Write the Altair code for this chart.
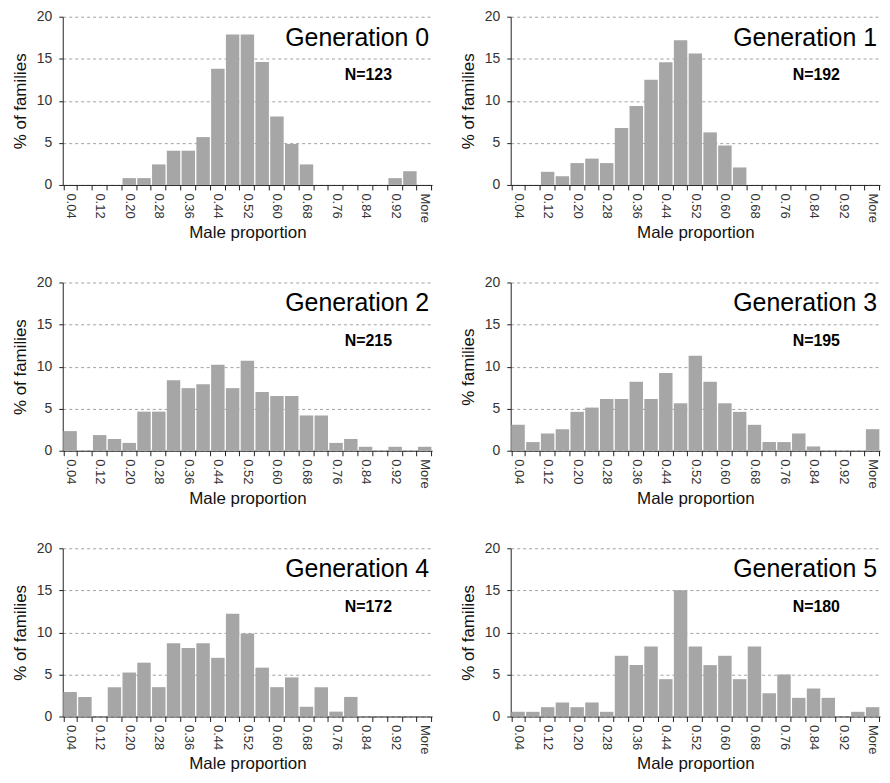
import altair as alt
import pandas as pd

bins = ["0.04", "0.08", "0.12", "0.16", "0.20", "0.24", "0.28", "0.32", "0.36",
        "0.40", "0.44", "0.48", "0.52", "0.56", "0.60", "0.64", "0.68", "0.72",
        "0.76", "0.80", "0.84", "0.88", "0.92", "0.96", "More"]
shown_labels = bins[::2]

gen0 = [0, 0, 0, 0, 0.81, 0.81, 2.44, 4.07, 4.07, 5.69, 13.82, 17.89, 17.89,
        14.63, 8.13, 4.88, 2.44, 0, 0, 0, 0, 0, 0.81, 1.63, 0]
gen1 = [0, 0, 1.56, 1.04, 2.60, 3.13, 2.60, 6.77, 9.38, 12.50, 14.58, 17.19,
        15.63, 6.25, 4.69, 2.08, 0, 0, 0, 0, 0, 0, 0, 0, 0]
gen2 = [2.33, 0, 1.86, 1.40, 0.93, 4.65, 4.65, 8.37, 7.44, 7.91, 10.23, 7.44,
        10.70, 6.98, 6.51, 6.51, 4.19, 4.19, 0.93, 1.40, 0.47, 0, 0.47, 0, 0.47]
gen3 = [3.08, 1.03, 2.05, 2.56, 4.62, 5.13, 6.15, 6.15, 8.21, 6.15, 9.23, 5.64,
        11.28, 8.21, 5.64, 4.62, 3.08, 1.03, 1.03, 2.05, 0.51, 0, 0, 0, 2.56]
gen4 = [2.91, 2.33, 0, 3.49, 5.23, 6.40, 3.49, 8.72, 8.14, 8.72, 6.98, 12.21,
        9.88, 5.81, 3.49, 4.65, 1.16, 3.49, 0.58, 2.33, 0, 0, 0, 0, 0]
gen5 = [0.56, 0.56, 1.11, 1.67, 1.11, 1.67, 0.56, 7.22, 6.11, 8.33, 4.44, 15.00,
        8.33, 6.11, 7.22, 4.44, 8.33, 2.78, 5.00, 2.22, 3.33, 2.22, 0, 0.56, 1.11]

gen_titles = ["Generation 0", "Generation 1", "Generation 2",
              "Generation 3", "Generation 4", "Generation 5"]
n_labels = ["N=123", "N=192", "N=215", "N=195", "N=172", "N=180"]
y_titles = ["% of families", "% of families", "% of families",
            "% families", "% of families", "% of families"]
series = [gen0, gen1, gen2, gen3, gen4, gen5]

FONT = "Liberation Sans"
W = 371
H = 169

label_list = "[" + ",".join("'%s'" % s for s in shown_labels) + "]"
label_expr = "indexof(%s, datum.value) >= 0 ? datum.label : ''" % label_list


def panel(values, gtitle, ntext, ytitle):
    df = pd.DataFrame({"bin": bins, "pct": values})
    bars = alt.Chart(df).mark_bar(color="#a6a6a6").encode(
        x=alt.X("bin:N", sort=bins,
                scale=alt.Scale(paddingInner=0.09, paddingOuter=0.045),
                axis=alt.Axis(title="Male proportion", labelAngle=90,
                              labelExpr=label_expr, tickBand="extent",
                              tickSize=5, tickColor="#222", domainColor="#222",
                              labelFontSize=13, labelColor="#333",
                              labelPadding=3, titleFontSize=17,
                              titleFontWeight="normal", titleColor="#111",
                              titlePadding=2, labelFont=FONT, titleFont=FONT)),
        y=alt.Y("pct:Q", scale=alt.Scale(domain=[0, 20], nice=False),
                axis=alt.Axis(title=ytitle, values=[0, 5, 10, 15, 20],
                              grid=True, gridDash=[3, 3], gridColor="#a0a0a0",
                              tickSize=4, tickColor="#222", domainColor="#222",
                              labelFontSize=14, labelColor="#333",
                              labelPadding=7, titleFontSize=17,
                              titleFontWeight="normal", titleColor="#111",
                              titlePadding=7, labelFont=FONT, titleFont=FONT)),
    )
    tdf = pd.DataFrame({"t": [gtitle]})
    gt = alt.Chart(tdf).mark_text(align="right", baseline="alphabetic",
                                  fontSize=25, font=FONT, color="#000").encode(
        x=alt.value(W - 3), y=alt.value(29), text="t:N")
    ndf = pd.DataFrame({"t": [ntext]})
    nt = alt.Chart(ndf).mark_text(align="center", baseline="alphabetic",
                                  fontSize=16, fontWeight="bold", font=FONT,
                                  color="#000").encode(
        x=alt.value(W - 64), y=alt.value(64), text="t:N")
    return alt.layer(bars, gt, nt).properties(width=W, height=H)


panels = [panel(series[i], gen_titles[i], n_labels[i], y_titles[i]) for i in range(6)]

chart = alt.concat(*panels, columns=2, bounds="flush",
                   spacing={"row": 98, "column": 79}).properties(
    padding={"left": 3, "top": 0, "right": 2, "bottom": 2}
).configure_view(stroke=None)

chart.save("out.html", embed_options={"renderer": "svg", "actions": False})
